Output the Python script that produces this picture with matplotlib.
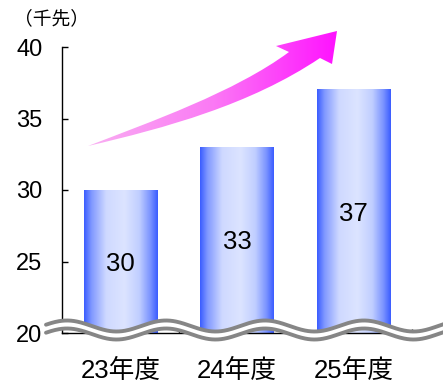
import numpy as np
import matplotlib
matplotlib.use("Agg")
import matplotlib.pyplot as plt
from matplotlib.path import Path
from matplotlib.patches import PathPatch
from matplotlib.colors import LinearSegmentedColormap
import matplotlib.transforms as mtransforms

plt.rcParams['font.family'] = ['Liberation Sans', 'Noto Sans CJK JP', 'DejaVu Sans']

# data
categories = ["23年度", "24年度", "25年度"]
values = [30, 33, 37]
y_ticks = [20, 25, 30, 35, 40]
unit_label = "（千先）"

W, H, DPI = 443, 384, 100
PT = 72 / DPI  # points per pixel
fig = plt.figure(figsize=(W / DPI, H / DPI), dpi=DPI)
fig.patch.set_facecolor("white")

ax_left, ax_right, ax_bottom, ax_top = 62, 412, 333, 47
ax = fig.add_axes([ax_left / W, 1 - ax_bottom / H,
                   (ax_right - ax_left) / W, (ax_bottom - ax_top) / H])
ax.set_xlim(-0.5, len(categories) - 0.5)
ax.set_ylim(20, 40)

for s in ("top", "right"):
    ax.spines[s].set_visible(False)
for s in ("left", "bottom"):
    ax.spines[s].set_linewidth(1.0)
    ax.spines[s].set_color("black")

ax.set_yticks(y_ticks)
ax.set_yticklabels([str(t) for t in y_ticks])
ax.tick_params(axis="y", direction="in", length=4, width=1, pad=14.0,
               labelsize=17)
ax.set_xticks(np.arange(len(categories)) + 0.5)
ax.set_xticklabels([])
ax.tick_params(axis="x", direction="in", length=3, width=1)

# gradient bars
bar_cmap = LinearSegmentedColormap.from_list(
    "barfill", [(0.0, "#3a5cff"), (0.1, "#8098ff"), (0.3, "#cfd9ff"),
                (0.55, "#dce4ff"), (0.75, "#c0ceff"), (0.9, "#7a93ff"),
                (1.0, "#3a5cff")])
grad = np.linspace(0, 1, 256).reshape(1, -1)
x = np.arange(len(categories))
bars = ax.bar(x, np.array(values) - 20, bottom=20, width=0.63,
              color="none", edgecolor="none")
label_size = 18.5
cap_px = label_size / PT * 0.716
for rect, v in zip(bars, values):
    x0, y0 = rect.get_x(), rect.get_y()
    ax.imshow(grad, cmap=bar_cmap, aspect="auto", interpolation="bicubic",
              extent=(x0, x0 + rect.get_width(), y0, y0 + rect.get_height()),
              zorder=2)
    ax.annotate(str(v), xy=(rect.get_x() + rect.get_width() / 2, (20 + v) / 2),
                xytext=(0, -cap_px / 2 * PT), textcoords="offset points",
                ha="center", va="baseline", fontsize=label_size, zorder=3)
ax.set_xlim(-0.5, len(categories) - 0.5)
ax.set_ylim(20, 40)

# category labels below the axis
trans = mtransforms.blended_transform_factory(ax.transData, ax.transAxes)
for i, c in enumerate(categories):
    ax.annotate(c, xy=(i, 0), xycoords=trans, xytext=(0, -38 * PT),
                textcoords="offset points", ha="center", va="center",
                fontsize=18.5, annotation_clip=False)

fig.text(14 / W, 1 - 19 / H, unit_label, fontsize=13.5, ha="left", va="center",
         family=["Noto Sans CJK JP", "DejaVu Sans"])

# overlay in pixel coordinates for the decorations
ov = fig.add_axes([0, 0, 1, 1], zorder=5)
ov.set_xlim(0, W)
ov.set_ylim(H, 0)
ov.axis("off")
ov.patch.set_alpha(0)

# broken-axis wave symbol
xs = np.linspace(46, W + 2, 400)
upper = 326 - 5.5 * np.cos(2 * np.pi * (xs - 67) / 99)
lower = upper + 8
ov.fill_between(xs, upper, lower, color="white", zorder=1)
ov.plot(xs, upper, color="#868686", lw=2.8, solid_capstyle="round", zorder=2)
ov.plot(xs, lower, color="#868686", lw=2.8, solid_capstyle="round", zorder=2)

# rising arrow with pink-to-magenta gradient
verts = [
    (88, 146),
    (150, 122), (235, 92), (289, 52),      # upper body edge
    (276, 46),                              # head left barb
    (337, 31),                              # tip
    (332, 64),                              # head right barb
    (320, 58),
    (250, 105), (165, 128), (88, 146),     # lower body edge back to tail
    (88, 146),
]
codes = [Path.MOVETO, Path.CURVE4, Path.CURVE4, Path.CURVE4,
         Path.LINETO, Path.LINETO, Path.LINETO, Path.LINETO,
         Path.CURVE4, Path.CURVE4, Path.CURVE4, Path.CLOSEPOLY]
arrow_path = Path(verts, codes)
patch = PathPatch(arrow_path, facecolor="none", edgecolor="none")
ov.add_patch(patch)
arrow_cmap = LinearSegmentedColormap.from_list(
    "arrowfill", ["#f9b0f2", "#fb7af5", "#ff10ff"])
gx = np.linspace(0, 1, 256).reshape(1, -1)
im = ov.imshow(gx, cmap=arrow_cmap, aspect="auto", extent=(85, 340, 150, 28),
               interpolation="bicubic", zorder=3)
im.set_clip_path(patch)
ov.set_xlim(0, W)
ov.set_ylim(H, 0)

fig.savefig("out.png", dpi=DPI, facecolor="white")
